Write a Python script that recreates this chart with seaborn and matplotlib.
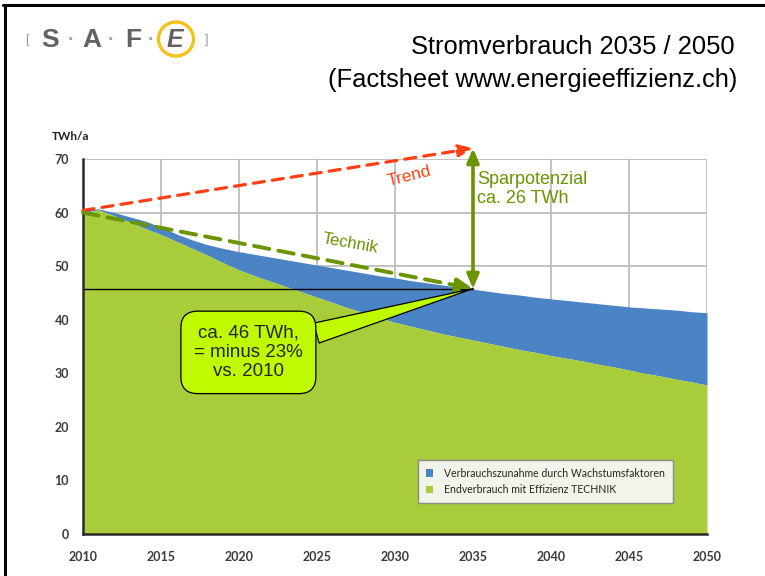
import matplotlib
matplotlib.use("Agg")
import matplotlib.pyplot as plt
import seaborn as sns
from matplotlib.patches import Patch, Ellipse
from matplotlib.lines import Line2D

years = list(range(2010, 2051))
total = [60.5, 60.7, 60.0, 59.2, 58.4, 57.3, 56.0, 54.9, 54.0, 53.3,
         52.7, 52.2, 51.7, 51.2, 50.7, 50.2, 49.7, 49.2, 48.7, 48.2,
         47.8, 47.3, 46.9, 46.5, 46.1, 45.7, 45.3, 44.9, 44.6, 44.2,
         43.9, 43.6, 43.3, 43.0, 42.7, 42.4, 42.2, 42.0, 41.8, 41.5,
         41.3]
technik = [60.0, 60.5, 59.4, 58.2, 57.0, 55.9, 54.6, 53.3, 52.0, 50.6,
           49.3, 48.2, 47.2, 46.2, 45.2, 44.2, 43.2, 42.2, 41.3, 40.4,
           39.5, 38.8, 38.1, 37.4, 36.8, 36.2, 35.6, 35.0, 34.4, 33.9,
           33.3, 32.8, 32.3, 31.7, 31.2, 30.6, 30.0, 29.5, 28.9, 28.4,
           27.8]

start_year = 2010
target_year = 2035
trend_start = 60.4
trend_2035 = 72.0
technik_start = 60.0
technik_2035 = 45.8

legend_labels = ["Verbrauchszunahme durch Wachstumsfaktoren",
                 "Endverbrauch mit Effizienz TECHNIK"]
x_ticks = list(range(2010, 2051, 5))
y_ticks = list(range(0, 71, 10))

blue = "#4A84C4"
green = "#A8CC3A"
dark_green = "#6A9400"
red = "#FF4016"
lime = "#BFFA00"

sns.set_theme(style="whitegrid")
plt.rcParams["font.family"] = ["Liberation Sans", "DejaVu Sans"]

fig = plt.figure(figsize=(7.65, 5.76), dpi=100)
ax = fig.add_axes([83 / 765, 42 / 576, 624 / 765, 375 / 576])

# Flaechen
ax.fill_between(years, technik, total, color=blue, lw=0, zorder=2)
ax.fill_between(years, 0, technik, color=green, lw=0, zorder=2)

ax.set_xlim(2010, 2050)
ax.set_ylim(0, 70)
ax.set_xticks(x_ticks)
ax.set_yticks(y_ticks)
ax.grid(True, color="#BDBDBD", lw=1.3)
ax.set_axisbelow(True)
ax.set_facecolor("white")
for s in ["top", "right"]:
    ax.spines[s].set_visible(False)
for s in ["left", "bottom"]:
    ax.spines[s].set_color("#2B2B2B")
    ax.spines[s].set_linewidth(1.8)
    ax.spines[s].set_zorder(5)
ax.tick_params(axis="both", direction="out", length=4, width=1.5,
               color="#2B2B2B", labelsize=9, labelcolor="#3A3A3A")
ax.tick_params(axis="y", pad=6)
ax.tick_params(axis="x", pad=8)
for lab in ax.get_xticklabels() + ax.get_yticklabels():
    lab.set_fontfamily("Lato")
    lab.set_fontweight("bold")

fig.text(52 / 765, 1 - 136 / 576, "TWh/a", fontsize=8.5, fontweight="bold",
         family="Lato", color="#222222", va="center", ha="left")

# Ziellinie 2035
ax.plot([start_year, target_year], [technik_2035, technik_2035],
        color="black", lw=1, zorder=4)

# Trend und Technik
ax.annotate("", xy=(target_year, trend_2035), xytext=(start_year, trend_start),
            arrowprops=dict(arrowstyle="-|>,head_length=0.7,head_width=0.3",
                            color=red, lw=2.3, linestyle=(0, (3.5, 2.5)),
                            shrinkA=0, shrinkB=0),
            annotation_clip=False, zorder=6)
ax.annotate("", xy=(target_year, technik_2035), xytext=(start_year, technik_start),
            arrowprops=dict(arrowstyle="-|>,head_length=0.8,head_width=0.35",
                            color=dark_green, lw=2.8, linestyle=(0, (4, 2.4)),
                            shrinkA=0, shrinkB=0),
            annotation_clip=False, zorder=6)
ax.annotate("", xy=(target_year, trend_2035), xytext=(target_year, technik_2035),
            arrowprops=dict(arrowstyle="<|-|>,head_length=0.7,head_width=0.3",
                            color=dark_green, lw=2.6, shrinkA=0, shrinkB=0),
            annotation_clip=False, zorder=6)

ax.text(2030.9, 66.8, "Trend", color=red, fontsize=12.5, rotation=14,
        ha="center", va="center", zorder=6)
ax.text(2027.1, 54.3, "Technik", color=dark_green, fontsize=12, rotation=-10,
        ha="center", va="center", zorder=6)
ax.text(2035.25, 64.4, "Sparpotenzial\nca. %d TWh" % round(trend_2035 - technik_2035),
        color=dark_green, fontsize=13, ha="left", va="center",
        linespacing=1.15, zorder=6)

# Sprechblase
ax.annotate("ca. 46 TWh,\n= minus 23%\nvs. 2010",
            xy=(target_year, technik_2035), xytext=(2020.6, 33.9),
            ha="center", va="center", fontsize=13.5, linespacing=1.2,
            bbox=dict(boxstyle="round,pad=0.7,rounding_size=0.9",
                      fc=lime, ec="black", lw=0.9),
            arrowprops=dict(arrowstyle="wedge,tail_width=1.1,shrink_factor=0.5",
                            fc=lime, ec="black", lw=0.9, shrinkA=0, shrinkB=0),
            zorder=7)

# Legende
handles = [Patch(facecolor=blue, edgecolor="none"),
           Patch(facecolor=green, edgecolor="none")]
leg = ax.legend(handles, legend_labels, loc="lower right",
                bbox_to_anchor=(0.945, 0.083), frameon=True,
                fancybox=False, handlelength=0.7, handleheight=0.7,
                handletextpad=1.0, borderpad=0.75, borderaxespad=0,
                labelspacing=0.5, prop={"family": "Lato", "size": 7.6})
leg.get_frame().set_facecolor("#F1F4E8")
leg.get_frame().set_edgecolor("#8A8A8A")
leg.get_frame().set_alpha(1)
leg.set_zorder(8)

# Titel
fig.text(735 / 765, 1 - 47 / 576, "Stromverbrauch 2035 / 2050", fontsize=18.4,
         ha="right", va="center", color="black")
fig.text(737 / 765, 1 - 80 / 576, "(Factsheet www.energieeffizienz.ch)",
         fontsize=18.4, ha="right", va="center", color="black")

# SAFE-Logo
logo_y = 1 - 40 / 576
fig.text(27 / 765, logo_y, "[", fontsize=9, color="#9A9A9A", ha="center", va="center")
fig.text(207 / 765, logo_y, "]", fontsize=9, color="#9A9A9A", ha="center", va="center")
for xp, ch in [(50, "S"), (92, "A"), (133, "F")]:
    fig.text(xp / 765, logo_y, ch, fontsize=19, fontweight="bold",
             color="#626262", ha="center", va="center")
for xp in [71, 111, 151]:
    fig.text(xp / 765, logo_y, "\u00b7", fontsize=14, fontweight="bold",
             color="#A0A0A0", ha="center", va="center")
fig.text(175 / 765, logo_y, "E", fontsize=18, fontweight="bold", style="italic",
         color="#626262", ha="center", va="center")
fig.add_artist(Ellipse((176 / 765, 1 - 39 / 576), 35 / 765, 34 / 576,
                       transform=fig.transFigure, fill=False,
                       edgecolor="#F6C21A", lw=2.4))

# Rahmen der Folie
fig.add_artist(Line2D([3 / 765, 1], [1 - 5 / 576, 1 - 5 / 576],
                      transform=fig.transFigure, color="black", lw=2.2))
fig.add_artist(Line2D([4.5 / 765, 4.5 / 765], [0, 1 - 5 / 576],
                      transform=fig.transFigure, color="black", lw=2.2))

fig.savefig("out.png", dpi=100)
